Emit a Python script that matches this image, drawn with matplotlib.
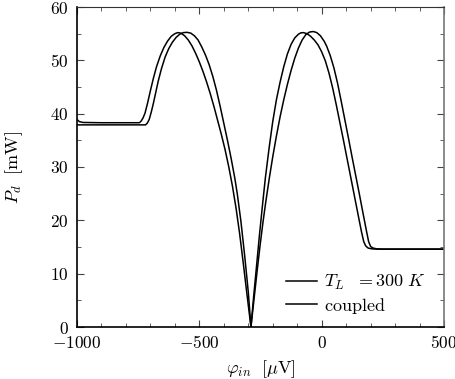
import numpy as np
import matplotlib
matplotlib.use("Agg")
import matplotlib.pyplot as plt
from matplotlib.ticker import MultipleLocator, FuncFormatter

# curve: T_L = 300 K
phi_a = [-1000, -990, -975, -900, -800, -745, -738, -730, -722, -712, -700, -688,
         -675, -660, -645, -630, -615, -600, -588, -575, -560, -545, -530, -515,
         -500, -485, -470, -455, -440, -425, -410, -395, -380, -365, -350, -335,
         -320, -305, -289,
         -278, -265, -255, -242, -230, -215, -200, -185, -170, -155, -140, -125,
         -110, -95, -85, -75, -60, -45, -30, -15, 0, 15, 30, 45, 60, 75, 90,
         105, 120, 135, 150, 163, 172, 180, 190, 205, 230, 300, 400, 500]
p_a = [38.9, 38.5, 38.35, 38.3, 38.3, 38.3, 38.6, 39.2, 40.1, 41.9, 44.3, 46.6,
       48.8, 50.8, 52.4, 53.6, 54.5, 55.0, 55.2, 55.1, 54.6, 53.8, 52.7, 51.3,
       49.7, 47.9, 45.9, 43.7, 41.3, 38.7, 36.1, 33.3, 30.1, 26.5, 22.3, 17.4,
       11.8, 6.0, 0.0,
       5.7, 12.0, 16.9, 22.8, 28.0, 33.5, 38.5, 42.6, 45.9, 48.8, 51.2, 53.0,
       54.2, 54.9, 55.15, 55.2, 55.0, 54.5, 53.8, 52.9, 51.6, 49.9, 47.6, 44.8,
       41.6, 38.2, 34.8, 31.3, 27.8, 24.3, 20.8, 17.8, 16.0, 15.2, 14.8, 14.65,
       14.6, 14.6, 14.6, 14.6]

# curve: coupled
phi_b = [-1000, -900, -800, -720, -713, -705, -697, -688, -678, -668, -655, -640,
         -625, -610, -595, -580, -565, -550, -535, -520, -505, -490, -475, -460,
         -445, -430, -415, -400, -385, -370, -355, -345, -330, -315, -300, -289,
         -278, -265, -252, -240, -228, -214, -200, -185, -170, -155, -140, -125,
         -110, -95, -80, -65, -50, -34, -20, -5, 10, 20, 35, 50, 65, 80, 95, 110,
         125, 140, 155, 170, 184, 192, 200, 210, 225, 250, 300, 400, 500]
p_b = [37.9, 37.9, 37.9, 37.9, 38.2, 38.9, 40.2, 41.9, 44.0, 46.1, 48.4, 50.6,
       52.2, 53.4, 54.3, 54.9, 55.2, 55.25, 55.1, 54.6, 53.8, 52.5, 51.0, 49.2,
       47.0, 44.4, 41.4, 38.2, 35.0, 31.6, 27.9, 25.0, 19.8, 13.5, 6.6, 0.0,
       4.6, 10.0, 15.2, 19.6, 23.6, 27.9, 31.9, 35.8, 39.4, 42.6, 45.5, 48.1,
       50.4, 52.3, 53.8, 54.8, 55.3, 55.4, 55.2, 54.6, 53.6, 52.7, 50.9, 48.6,
       45.7, 42.3, 38.8, 35.3, 31.7, 28.2, 24.7, 21.1, 17.8, 16.0, 15.1, 14.8,
       14.65, 14.6, 14.6, 14.6, 14.6]

plt.rcParams['mathtext.fontset'] = 'cm'
plt.rcParams['font.family'] = 'serif'
plt.rcParams['font.serif'] = ['DejaVu Serif']

fig = plt.figure(figsize=(4.56, 3.79), dpi=100)
ax = fig.add_axes([77 / 456, 1 - 327 / 379, 367 / 456, 320 / 379])

ax.plot(phi_a, p_a, color='black', lw=1.1, label=r'$T_L\ \ = 300\ K$')
ax.plot(phi_b, p_b, color='black', lw=1.1, label=r'$\mathrm{coupled}$')

ax.set_xlim(-1000, 500)
ax.set_ylim(0, 60)
ax.xaxis.set_major_locator(MultipleLocator(500))
ax.xaxis.set_minor_locator(MultipleLocator(100))
ax.yaxis.set_major_locator(MultipleLocator(10))
ax.yaxis.set_minor_locator(MultipleLocator(5))
fmt = FuncFormatter(lambda v, pos: r'$%d$' % round(v))
ax.xaxis.set_major_formatter(fmt)
ax.yaxis.set_major_formatter(fmt)
ax.tick_params(which='both', direction='in', top=True, right=True,
               labelsize=12.5, color='#444444')
ax.tick_params(which='major', length=5, width=0.8, pad=6)
ax.tick_params(which='minor', length=3, width=0.6)

ax.spines['left'].set_linewidth(1.2)
ax.spines['bottom'].set_linewidth(1.2)
ax.spines['top'].set_color('#333333')
ax.spines['right'].set_color('#777777')
ax.spines['right'].set_linewidth(1.2)

ax.set_xlabel(r'$\varphi_{in}\ \ [\mu\mathrm{V}]$', fontsize=13, labelpad=4)
ax.set_ylabel(r'$P_d\ \ [\mathrm{mW}]$', fontsize=13, labelpad=18)

ax.legend(loc='lower right', frameon=False, fontsize=13, handlelength=1.7,
          handletextpad=0.4, labelspacing=0.2, bbox_to_anchor=(0.995, -0.015))

fig.savefig('out.png', dpi=100)
